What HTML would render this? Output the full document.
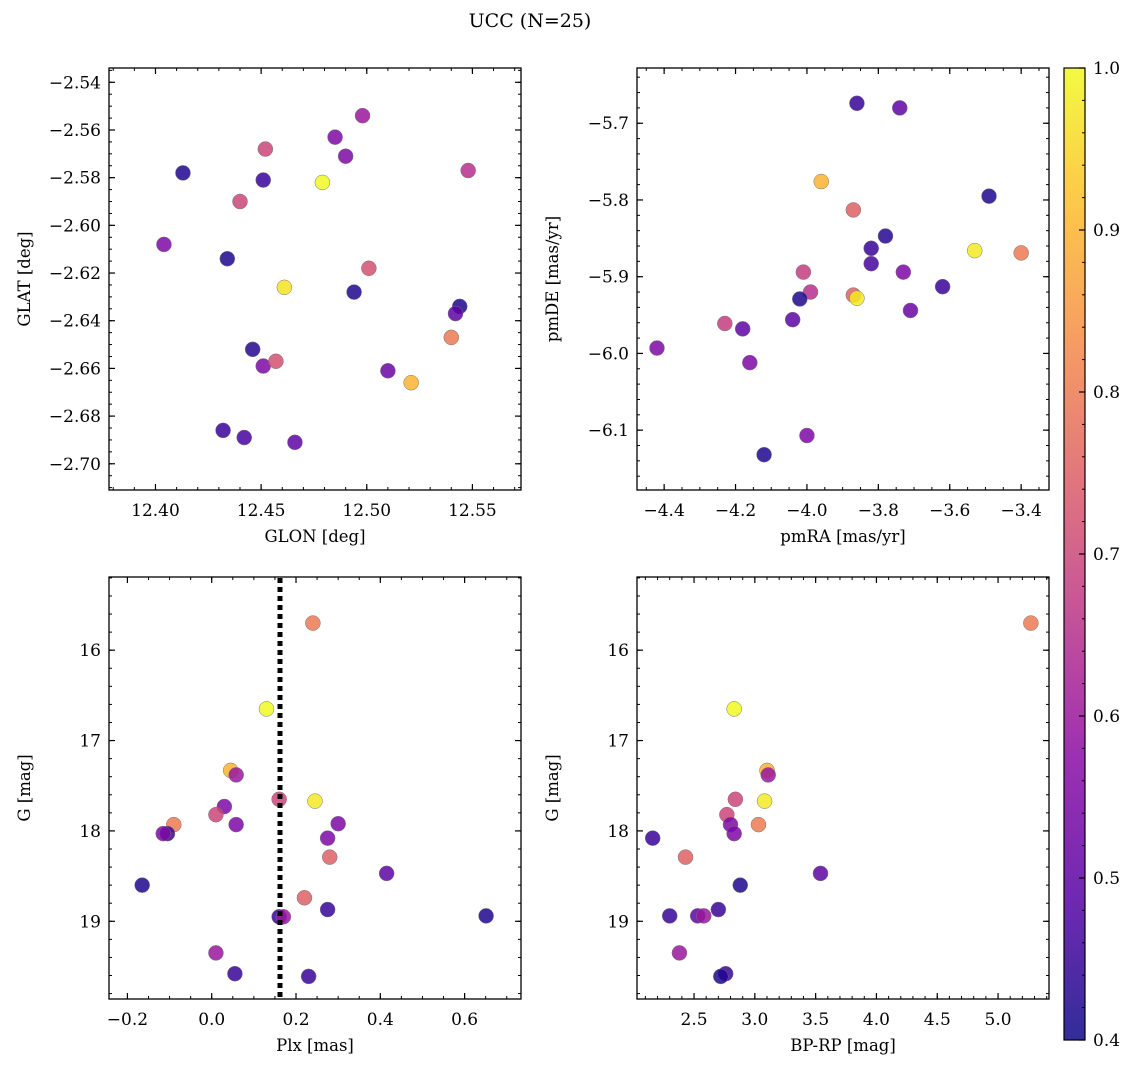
<!DOCTYPE html>
<html><head><meta charset="utf-8"><style>
body{margin:0;background:#fff;}
svg text{font-family:"DejaVu Serif","Liberation Serif",serif;fill:#000;}
</style></head><body>
<svg id="fig" width="1136" height="1067" xmlns="http://www.w3.org/2000/svg">
<rect width="1136" height="1067" fill="#fff"/>
<text x="530" y="27" font-size="19" text-anchor="middle">UCC (N=25)</text>
</svg>
<script>
// Panel data
const glon=[12.413,12.404,12.434,12.440,12.452,12.451,12.479,12.485,12.490,12.498,12.548,12.461,12.494,12.501,12.544,12.542,12.446,12.451,12.457,12.510,12.540,12.521,12.432,12.442,12.466];
const glat=[-2.578,-2.608,-2.614,-2.590,-2.568,-2.581,-2.582,-2.563,-2.571,-2.554,-2.577,-2.626,-2.628,-2.618,-2.634,-2.637,-2.652,-2.659,-2.657,-2.661,-2.647,-2.666,-2.686,-2.689,-2.691];
const probTL=[0.42,0.55,0.42,0.7,0.7,0.45,1.0,0.55,0.55,0.6,0.65,0.97,0.42,0.72,0.42,0.5,0.43,0.55,0.72,0.52,0.8,0.9,0.45,0.47,0.5];
const pmra=[-3.86,-3.74,-3.96,-3.49,-3.87,-3.78,-3.82,-3.53,-3.40,-3.82,-4.01,-3.73,-3.87,-3.99,-3.86,-4.02,-3.62,-3.71,-4.04,-4.23,-4.18,-4.16,-4.42,-4.00,-4.12];
const pmde=[-5.674,-5.68,-5.776,-5.795,-5.813,-5.847,-5.863,-5.866,-5.869,-5.883,-5.894,-5.894,-5.924,-5.920,-5.928,-5.929,-5.913,-5.944,-5.956,-5.961,-5.968,-6.012,-5.993,-6.107,-6.132];
const probTR=[0.45,0.5,0.9,0.42,0.75,0.43,0.45,0.98,0.8,0.47,0.68,0.55,0.75,0.65,0.98,0.42,0.45,0.52,0.5,0.68,0.5,0.55,0.55,0.55,0.42];
const plx=[0.24,0.13,0.045,0.058,0.245,0.16,0.03,0.01,-0.09,0.058,0.30,-0.105,-0.115,0.275,0.28,-0.165,0.415,0.22,0.275,0.16,0.17,0.651,0.01,0.055,0.23];
const gmagBL=[15.7,16.65,17.33,17.38,17.67,17.65,17.73,17.82,17.93,17.93,17.92,18.03,18.03,18.08,18.29,18.6,18.47,18.74,18.87,18.95,18.95,18.94,19.35,19.58,19.61];
const probBL=[0.8,1.0,0.9,0.6,0.98,0.7,0.55,0.7,0.8,0.55,0.55,0.45,0.55,0.55,0.75,0.42,0.5,0.75,0.45,0.45,0.6,0.42,0.6,0.45,0.45];
const plxLine=[0.162];
const bprp=[5.27,2.83,3.10,3.11,3.08,2.84,2.77,3.03,2.80,2.83,2.16,2.43,2.88,3.54,2.30,2.53,2.58,2.70,2.38,2.76,2.72];
const gmagBR=[15.7,16.65,17.33,17.38,17.67,17.65,17.82,17.93,17.93,18.03,18.08,18.29,18.6,18.47,18.94,18.94,18.94,18.87,19.35,19.58,19.61];
const probBR=[0.8,1.0,0.9,0.6,0.98,0.7,0.7,0.8,0.55,0.55,0.45,0.75,0.42,0.5,0.45,0.5,0.6,0.45,0.6,0.45,0.42];
const cbTicks=[0.4,0.5,0.6,0.7,0.8,0.9,1.0];

const NS='http://www.w3.org/2000/svg';
const svg=document.getElementById('fig');
function mk(tag,attrs,parent){const e=document.createElementNS(NS,tag);for(const k in attrs)e.setAttribute(k,attrs[k]);(parent||svg).appendChild(e);return e;}
const stops=[[0,[13,8,135]],[0.14,[84,2,163]],[0.29,[139,10,165]],[0.43,[185,50,137]],[0.57,[219,92,104]],[0.71,[244,136,73]],[0.86,[254,188,43]],[1,[240,249,33]]];
function plasma(t){t=Math.max(0,Math.min(1,t));for(let i=1;i<stops.length;i++){if(t<=stops[i][0]){const a=stops[i-1],b=stops[i];const f=(t-a[0])/(b[0]-a[0]);const c=a[1].map((v,j)=>Math.round(v+(b[1][j]-v)*f));return `rgb(${c[0]},${c[1]},${c[2]})`;}}return 'rgb(240,249,33)';}
function cnorm(v){return (v-0.4)/0.6;}

function panel(name,px,py,w,h,xmin,xmax,ymin,ymax,xticks,xminor,yticks,yminor,xfmt,yfmt,xlabel,ylabel,invY){
  const sx=v=>px+(v-xmin)/(xmax-xmin)*w;
  const sy=invY?(v=>py+(v-ymin)/(ymax-ymin)*h):(v=>py+h-(v-ymin)/(ymax-ymin)*h);
  const g=mk('g',{});
  
  
  const ax=mk('g',{},g);
  
  
  const lo=Math.min(xmin,xmax),hi=Math.max(xmin,xmax);
  for(let v=Math.ceil(lo/xminor-1e-6)*xminor;v<=hi+1e-9;v+=xminor){const x=sx(v);mk('line',{x1:x,x2:x,y1:py+h,y2:py+h-3,stroke:'#000','stroke-width':1},ax);mk('line',{x1:x,x2:x,y1:py,y2:py+3,stroke:'#000','stroke-width':1},ax);}
  const ylo=Math.min(ymin,ymax),yhi=Math.max(ymin,ymax);
  for(let v=Math.ceil(ylo/yminor-1e-6)*yminor;v<=yhi+1e-9;v+=yminor){const y=sy(v);mk('line',{x1:px,x2:px+3,y1:y,y2:y,stroke:'#000','stroke-width':1},ax);mk('line',{x1:px+w,x2:px+w-3,y1:y,y2:y,stroke:'#000','stroke-width':1},ax);}
  xticks.forEach(v=>{const x=sx(v);mk('line',{x1:x,x2:x,y1:py+h,y2:py+h-6,stroke:'#000','stroke-width':1.2},ax);mk('line',{x1:x,x2:x,y1:py,y2:py+6,stroke:'#000','stroke-width':1.2},ax);
    const t=mk('text',{x:x,y:py+h+26,'font-size':17,'text-anchor':'middle'},ax);t.textContent=xfmt(v).replace('-','\u2212');
    
    });
  yticks.forEach(v=>{const y=sy(v);mk('line',{x1:px,x2:px+6,y1:y,y2:y,stroke:'#000','stroke-width':1.2},ax);mk('line',{x1:px+w,x2:px+w-6,y1:y,y2:y,stroke:'#000','stroke-width':1.2},ax);
    const t=mk('text',{x:px-8,y:y+6,'font-size':17,'text-anchor':'end'},ax);t.textContent=yfmt(v).replace('-','\u2212');
    
    });
  mk('rect',{x:px,y:py,width:w,height:h,fill:'none',stroke:'#000','stroke-width':1.3},ax);
  const xl=mk('text',{x:px+w/2,y:py+h+52,'font-size':16.5,'text-anchor':'middle'},g);xl.textContent=xlabel;
  
  
  const yl=mk('text',{x:0,y:0,'font-size':16.5,'text-anchor':'middle',transform:`translate(${px-79},${py+h/2}) rotate(-90)`},g);yl.textContent=ylabel;
  
  
  return {g,sx,sy};
}
function scatter(p,xs,ys,cs){
  xs.forEach((v,i)=>{const c=mk('circle',{cx:p.sx(v),cy:p.sy(ys[i]),r:7.5,fill:plasma(cnorm(cs[i])),'fill-opacity':0.85,stroke:'#777','stroke-width':0.5},p.g);
    
    });
}
const f2=v=>v.toFixed(2),f1=v=>v.toFixed(1),f0=v=>v.toFixed(0);
const range=(a,b,s)=>{const r=[];for(let v=a;v<=b+1e-9;v+=s)r.push(+v.toFixed(6));return r;};

const tl=panel('panel-glon-glat',109,68,412,422,12.378,12.573,-2.711,-2.534,range(12.40,12.55,0.05),0.01,range(-2.70,-2.54,0.02),0.005,f2,f2,'GLON [deg]','GLAT [deg]',false);
scatter(tl,glon,glat,probTL);
const tr=panel('panel-pm',637,68,412,422,-4.476,-3.322,-6.178,-5.628,range(-4.4,-3.4,0.2),0.05,range(-6.1,-5.7,0.1),0.02,f1,f1,'pmRA [mas/yr]','pmDE [mas/yr]',false);
scatter(tr,pmra,pmde,probTR);
const bl=panel('panel-plx-g',109,577,412,422,-0.2437,0.7338,15.19,19.86,range(-0.2,0.6,0.2),0.05,range(16,19,1),0.2,f1,f0,'Plx [mas]','G [mag]',true);
scatter(bl,plx,gmagBL,probBL);
plxLine.forEach(v=>{const l=mk('line',{x1:bl.sx(v),x2:bl.sx(v),y1:578,y2:998,stroke:'#000','stroke-width':5,'stroke-dasharray':'5,4'},bl.g);
  
  });
const br=panel('panel-color-g',637,577,412,422,2.031,5.419,15.19,19.86,range(2.5,5.0,0.5),0.1,range(16,19,1),0.2,f1,f0,'BP-RP [mag]','G [mag]',true);
scatter(br,bprp,gmagBR,probBR);

// colorbar
const cb=mk('g',{});


const defs=mk('defs',{},svg);
const grad=mk('linearGradient',{id:'pl',x1:0,y1:1,x2:0,y2:0},defs);
for(let i=0;i<=20;i++){mk('stop',{offset:i/20,'stop-color':plasma(i/20),'stop-opacity':0.85},grad);}
const cbX=1064,cbY=68,cbW=21,cbH=972;
mk('rect',{x:cbX,y:cbY,width:cbW,height:cbH,fill:'url(#pl)',stroke:'#000','stroke-width':1.2},cb);
const cy=v=>cbY+cbH-(v-0.4)/0.6*cbH;
for(let v=0.4;v<=1.0001;v+=0.02){mk('line',{x1:cbX+cbW,x2:cbX+cbW-3,y1:cy(v),y2:cy(v),stroke:'#000'},cb);}
cbTicks.forEach(v=>{mk('line',{x1:cbX+cbW,x2:cbX+cbW-6,y1:cy(v),y2:cy(v),stroke:'#000','stroke-width':1.2},cb);
  const t=mk('text',{x:cbX+cbW+8,y:cy(v)+6,'font-size':17},cb);t.textContent=v.toFixed(1);
  
  });
</script>
</body></html>
